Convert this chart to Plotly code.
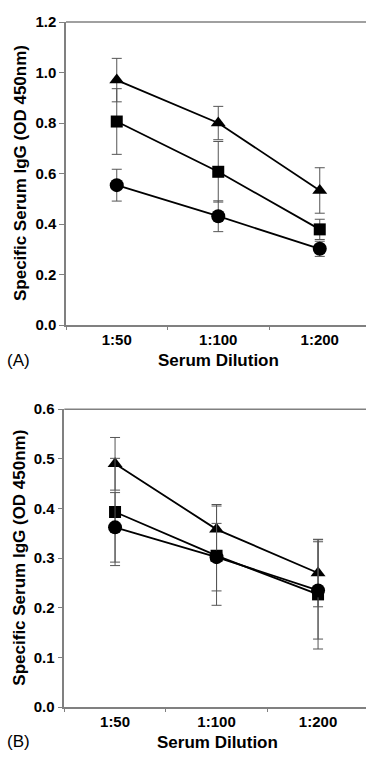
import plotly.graph_objects as go

categories = ["1:50", "1:100", "1:200"]

# Panel A
a_triangle = [0.970, 0.800, 0.533]
a_triangle_err = [0.086, 0.066, 0.090]
a_square = [0.806, 0.607, 0.379]
a_square_err = [0.130, 0.120, 0.040]
a_circle = [0.554, 0.431, 0.302]
a_circle_err = [0.063, 0.061, 0.030]

# Panel B
b_triangle = [0.490, 0.358, 0.270]
b_triangle_err = [0.053, 0.050, 0.068]
b_square = [0.393, 0.305, 0.227]
b_square_err = [0.108, 0.100, 0.110]
b_circle = [0.362, 0.302, 0.235]
b_circle_err = [0.070, 0.068, 0.098]

FONT = "Liberation Sans, Arial, sans-serif"
W, H = 366, 763

fig = go.Figure()

def add_series(y, err, symbol, size, xa, ya):
    fig.add_trace(go.Scatter(
        x=categories, y=y, mode="lines+markers",
        line=dict(color="black", width=1.8),
        marker=dict(symbol=symbol, size=size, color="black"),
        error_y=dict(type="data", array=err, visible=True, color="#555", thickness=1, width=5),
        xaxis=xa, yaxis=ya, showlegend=False,
    ))

for xa, ya, data in [
    ("x", "y", [(a_triangle, a_triangle_err), (a_square, a_square_err), (a_circle, a_circle_err)]),
    ("x2", "y2", [(b_triangle, b_triangle_err), (b_square, b_square_err), (b_circle, b_circle_err)]),
]:
    for (yv, ev), (sym, sz) in zip(data, [("triangle-up", 13), ("square", 12), ("circle", 14)]):
        add_series(yv, ev, sym, sz, xa, ya)

axis_common = dict(showline=True, linecolor="#808080", linewidth=1.5, showgrid=False, zeroline=False,
                   ticks="outside", tickcolor="#808080", tickwidth=1, mirror=False,
                   tickfont=dict(family=FONT, size=15, color="black", weight="bold"))

# pixel geometry
a_left, a_top, a_bottom = 66, 13.3, 323.3
b_left, b_top, b_bottom = 64.3, 409.3, 714
spacing = 101.5

def xrange(left, right=W):
    return [-0.5, -0.5 + (right - left) / spacing]

fig.update_layout(
    width=W, height=H, margin=dict(l=0, r=0, t=0, b=0),
    plot_bgcolor="white", paper_bgcolor="white",
    font=dict(family=FONT, color="black"),
    xaxis=dict(domain=[a_left / W, 1], anchor="y", type="category", range=xrange(a_left),
               tickson="boundaries", ticklen=3, **axis_common),
    yaxis=dict(domain=[1 - a_bottom / H, 1 - a_top / H], anchor="x", range=[0, 1.2], dtick=0.2,
               tickformat=".1f", ticklen=5, **axis_common),
    xaxis2=dict(domain=[b_left / W, 1], anchor="y2", type="category", range=xrange(b_left),
                tickson="boundaries", ticklen=3, **axis_common),
    yaxis2=dict(domain=[1 - b_bottom / H, 1 - b_top / H], anchor="x2", range=[0, 0.6], dtick=0.1,
                tickformat=".1f", ticklen=5, **axis_common),
)

# top frame lines
for xr, yr in [("x domain", "y domain"), ("x2 domain", "y2 domain")]:
    fig.add_shape(type="line", xref=xr, yref=yr, x0=0, x1=1, y0=1, y1=1,
                  line=dict(color="#808080", width=1.5))

def pyf(py):
    return 1 - py / H

ann = []
ytitle = "Specific Serum IgG (OD 450nm)"
ann.append(dict(text=ytitle, x=20.5 / W, y=pyf((a_top + a_bottom) / 2), textangle=-90))
ann.append(dict(text=ytitle, x=19.5 / W, y=pyf((b_top + b_bottom) / 2), textangle=-90))
ann.append(dict(text="Serum Dilution", x=218.5 / W, y=pyf(360)))
ann.append(dict(text="Serum Dilution", x=217 / W, y=pyf(750)))
annotations = []
for a in ann:
    annotations.append(dict(xref="paper", yref="paper", xanchor="center", yanchor="middle",
                            showarrow=False, font=dict(family=FONT, size=17, color="black", weight="bold"), **a))
for label, py in [("(A)", 359), ("(B)", 749)]:
    annotations.append(dict(text=label, xref="paper", yref="paper", x=5 / W, y=pyf(py),
                            xanchor="left", yanchor="middle", showarrow=False,
                            font=dict(family=FONT, size=17, color="black")))
fig.update_layout(annotations=annotations)

fig.write_html(
    "out.html",
    config={"displayModeBar": False},
    post_script="document.body.style.margin='0';document.body.style.padding='0';"
                "document.documentElement.style.overflow='hidden';document.body.style.overflow='hidden';",
)
